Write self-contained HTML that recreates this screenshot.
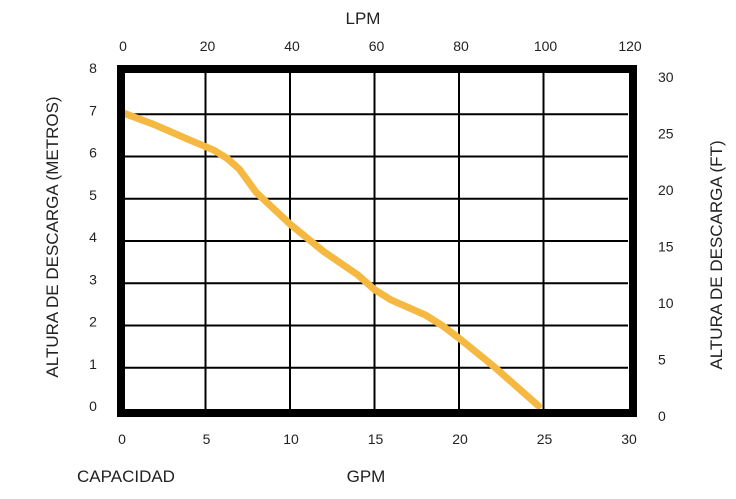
<!DOCTYPE html>
<html><head><meta charset="utf-8"><style>
html,body{margin:0;padding:0;background:#fff;}
svg text{font-family:"Liberation Sans",sans-serif;fill:#222;}
</style></head><body>
<svg width="736" height="494" viewBox="0 0 736 494">
<g id="grid"></g>
<g id="ticks"></g>
<path id="curve" fill="none" stroke="#F5B942" stroke-width="7" stroke-linecap="round" stroke-linejoin="round"/>
<rect x="121" y="69" width="512" height="344" fill="none" stroke="#000" stroke-width="8"/>
<text x="363" y="24" font-size="17" text-anchor="middle">LPM</text>
<text x="366" y="482" font-size="17" text-anchor="middle">GPM</text>
<text x="126" y="482" font-size="17" text-anchor="middle">CAPACIDAD</text>
<text transform="translate(58,237) rotate(-90)" font-size="17" text-anchor="middle">ALTURA DE DESCARGA (METROS)</text>
<text transform="translate(722,255) rotate(-90)" font-size="17" text-anchor="middle">ALTURA DE DESCARGA (FT)</text>
</svg>
<script>
const gpmTicks=[0,5,10,15,20,25,30];
const lpmTicks=[0,20,40,60,80,100,120];
const meterTicks=[0,1,2,3,4,5,6,7,8];
const ftTicks=[0,5,10,15,20,25,30];
const curveGpm=[0,2,4,5.5,6.3,7,8,10,12,14,15,16,18,19,20,22,24.7];
const curveMeters=[7.05,6.75,6.4,6.15,5.95,5.7,5.15,4.4,3.75,3.2,2.85,2.6,2.25,2.0,1.7,1.05,0.1];
const X0=121,X1=628,Y0=410,Y1=72;
const xG=g=>X0+(g/30)*(X1-X0);
const xL=l=>X0+(l/120)*(X1-X0);
const yM=m=>Y0-(m/8)*(Y0-Y1);
const yF=f=>416-(f/30)*339;
const NS="http://www.w3.org/2000/svg";
const grid=document.getElementById('grid'),ticks=document.getElementById('ticks');
function line(x1,y1,x2,y2){const l=document.createElementNS(NS,'line');
l.setAttribute('x1',x1);l.setAttribute('y1',y1);l.setAttribute('x2',x2);l.setAttribute('y2',y2);
l.setAttribute('stroke','#000');l.setAttribute('stroke-width','2');


grid.appendChild(l);}
function txt(x,y,s,anchor,name){const t=document.createElementNS(NS,'text');
t.setAttribute('x',x);t.setAttribute('y',y);t.setAttribute('font-size','14');t.setAttribute('text-anchor',anchor);t.textContent=s;


ticks.appendChild(t);}
lpmTicks.forEach(v=>{const x=xL(v);if(v>0&&v<120)line(x,Y1,x,Y0);txt(x+2,51,v,'middle','top-tick-label');});
meterTicks.forEach(v=>{const y=yM(v);if(v>0&&v<8)line(X0,y,X1,y);txt(93,y+1,v,'middle','left-tick-label');});
gpmTicks.forEach(v=>{txt(xG(v)+1,444,v,'middle','bottom-tick-label');});
ftTicks.forEach(v=>{txt(658,yF(v)+5,v,'start','right-tick-label');});
let d='';curveGpm.forEach((g,i)=>{d+=(i?'L':'M')+xG(g).toFixed(1)+','+yM(curveMeters[i]).toFixed(1);});
document.getElementById('curve').setAttribute('d',d);
</script>
</body></html>
